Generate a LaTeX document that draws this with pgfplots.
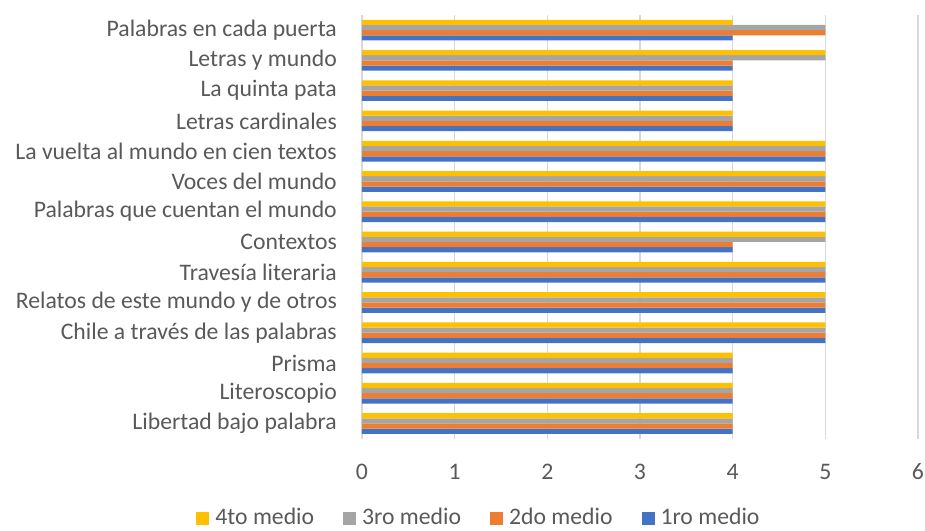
\documentclass[border=0pt]{standalone}
\usepackage{fontspec}
\setmainfont{Carlito}
\usepackage{pgfplots}
\pgfplotsset{compat=1.18}
\definecolor{cblue}{HTML}{4472C4}
\definecolor{corange}{HTML}{ED7D31}
\definecolor{cgray}{HTML}{A5A5A5}
\definecolor{cyellow}{HTML}{FFC000}
\definecolor{tgray}{HTML}{595959}
\definecolor{ggray}{HTML}{D9D9D9}
\begin{document}
\fontsize{23.8pt}{28pt}\selectfont
\begin{tikzpicture}
\useasboundingbox (-362bp,-92.4bp) rectangle (563bp,438.6bp);
\begin{axis}[
  at={(0,0)}, anchor=south west,
  scale only axis,
  width=556bp, height=423.6bp,
  xbar, bar width=0.171,
  xmin=0, xmax=6, xtick={0,1,2,3,4,5,6},
  ymin=-0.5, ymax=13.5,
  ytick={0,1,2,3,4,5,6,7,8,9,10,11,12,13},
  yticklabels={Libertad bajo palabra,Literoscopio,Prisma,Chile a través de las palabras,Relatos de este mundo y de otros,Travesía literaria,Contextos,Palabras que cuentan el mundo,Voces del mundo,La vuelta al mundo en cien textos,Letras cardinales,La quinta pata,Letras y mundo,Palabras en cada puerta},
  axis line style={draw=none},
  major tick length=0pt,
  xmajorgrids,
  grid style={draw=ggray, line width=1.2bp},
  /pgf/number format/assume math mode=true,
  tick label style={text=tgray, font=\fontsize{23.8pt}{28pt}\selectfont},
  yticklabel style={anchor=east, inner sep=0pt, xshift=-25bp},
  xticklabel style={anchor=north, inner sep=0pt, yshift=-25bp},
  legend columns=4,
  reverse legend,
  legend style={at={(0.2086,-0.188)}, anchor=center, draw=none, fill=none,
    font=\fontsize{23.8pt}{28pt}\selectfont, text=tgray,
    nodes={inner sep=0pt},
    /tikz/every odd column/.append style={column sep=6bp},
    /tikz/every even column/.append style={column sep=29bp}},
  legend image code/.code={\fill[#1] (0bp,-6.5bp) rectangle (13bp,6.5bp);},
]
\addplot[fill=cblue, draw=none, bar shift=-0.2565] coordinates {
(4,0) (4,1) (4,2) (5,3) (5,4) (5,5) (4,6) (5,7) (5,8) (5,9) (4,10) (4,11) (4,12) (4,13)};
\addlegendentry{1ro medio}
\addplot[fill=corange, draw=none, bar shift=-0.0855] coordinates {
(4,0) (4,1) (4,2) (5,3) (5,4) (5,5) (4,6) (5,7) (5,8) (5,9) (4,10) (4,11) (4,12) (5,13)};
\addlegendentry{2do medio}
\addplot[fill=cgray, draw=none, bar shift=0.0855] coordinates {
(4,0) (4,1) (4,2) (5,3) (5,4) (5,5) (5,6) (5,7) (5,8) (5,9) (4,10) (4,11) (5,12) (5,13)};
\addlegendentry{3ro medio}
\addplot[fill=cyellow, draw=none, bar shift=0.2565] coordinates {
(4,0) (4,1) (4,2) (5,3) (5,4) (5,5) (5,6) (5,7) (5,8) (5,9) (4,10) (4,11) (5,12) (4,13)};
\addlegendentry{4to medio}
\end{axis}
\end{tikzpicture}
\end{document}
